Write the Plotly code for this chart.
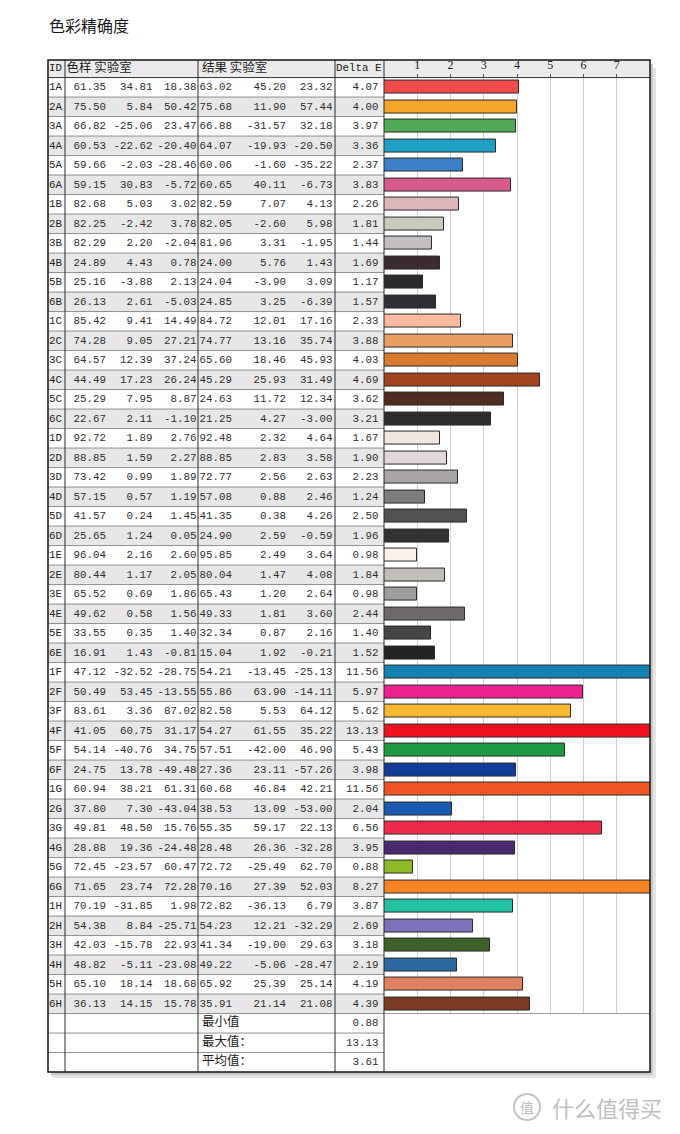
import plotly.graph_objects as go

# ---------------- data ----------------
ids = ["1A","2A","3A","4A","5A","6A","1B","2B","3B","4B","5B","6B",
       "1C","2C","3C","4C","5C","6C","1D","2D","3D","4D","5D","6D",
       "1E","2E","3E","4E","5E","6E","1F","2F","3F","4F","5F","6F",
       "1G","2G","3G","4G","5G","6G","1H","2H","3H","4H","5H","6H"]
ref_L = [61.35,75.50,66.82,60.53,59.66,59.15,82.68,82.25,82.29,24.89,25.16,26.13,
         85.42,74.28,64.57,44.49,25.29,22.67,92.72,88.85,73.42,57.15,41.57,25.65,
         96.04,80.44,65.52,49.62,33.55,16.91,47.12,50.49,83.61,41.05,54.14,24.75,
         60.94,37.80,49.81,28.88,72.45,71.65,70.19,54.38,42.03,48.82,65.10,36.13]
ref_a = [34.81,5.84,-25.06,-22.62,-2.03,30.83,5.03,-2.42,2.20,4.43,-3.88,2.61,
         9.41,9.05,12.39,17.23,7.95,2.11,1.89,1.59,0.99,0.57,0.24,1.24,
         2.16,1.17,0.69,0.58,0.35,1.43,-32.52,53.45,3.36,60.75,-40.76,13.78,
         38.21,7.30,48.50,19.36,-23.57,23.74,-31.85,8.84,-15.78,-5.11,18.14,14.15]
ref_b = [18.38,50.42,23.47,-20.40,-28.46,-5.72,3.02,3.78,-2.04,0.78,2.13,-5.03,
         14.49,27.21,37.24,26.24,8.87,-1.10,2.76,2.27,1.89,1.19,1.45,0.05,
         2.60,2.05,1.86,1.56,1.40,-0.81,-28.75,-13.55,87.02,31.17,34.75,-49.48,
         61.31,-43.04,15.76,-24.48,60.47,72.28,1.98,-25.71,22.93,-23.08,18.68,15.78]
res_L = [63.02,75.68,66.88,64.07,60.06,60.65,82.59,82.05,81.96,24.00,24.04,24.85,
         84.72,74.77,65.60,45.29,24.63,21.25,92.48,88.85,72.77,57.08,41.35,24.90,
         95.85,80.04,65.43,49.33,32.34,15.04,54.21,55.86,82.58,54.27,57.51,27.36,
         60.68,38.53,55.35,28.48,72.72,70.16,72.82,54.23,41.34,49.22,65.92,35.91]
res_a = [45.20,11.90,-31.57,-19.93,-1.60,40.11,7.07,-2.60,3.31,5.76,-3.90,3.25,
         12.01,13.16,18.46,25.93,11.72,4.27,2.32,2.83,2.56,0.88,0.38,2.59,
         2.49,1.47,1.20,1.81,0.87,1.92,-13.45,63.90,5.53,61.55,-42.00,23.11,
         46.84,13.09,59.17,26.36,-25.49,27.39,-36.13,12.21,-19.00,-5.06,25.39,21.14]
res_b = [23.32,57.44,32.18,-20.50,-35.22,-6.73,4.13,5.98,-1.95,1.43,3.09,-6.39,
         17.16,35.74,45.93,31.49,12.34,-3.00,4.64,3.58,2.63,2.46,4.26,-0.59,
         3.64,4.08,2.64,3.60,2.16,-0.21,-25.13,-14.11,64.12,35.22,46.90,-57.26,
         42.21,-53.00,22.13,-32.28,62.70,52.03,6.79,-32.29,29.63,-28.47,25.14,21.08]
delta_e = [4.07,4.00,3.97,3.36,2.37,3.83,2.26,1.81,1.44,1.69,1.17,1.57,
           2.33,3.88,4.03,4.69,3.62,3.21,1.67,1.90,2.23,1.24,2.50,1.96,
           0.98,1.84,0.98,2.44,1.40,1.52,11.56,5.97,5.62,13.13,5.43,3.98,
           11.56,2.04,6.56,3.95,0.88,8.27,3.87,2.69,3.18,2.19,4.19,4.39]
bar_colors = ["#ef4b4b","#f4a52a","#4fa955","#1e9fc4","#3d80c8","#d85a8c",
              "#dbb7bb","#c9c9bd","#c2bec2","#3a2b2f","#2b2b2b","#2f2f35",
              "#f9baa0","#e99f62","#d97a2e","#a2451f","#4f2b22","#2d2d2d",
              "#f1e6e1","#e1d9d9","#aaa6a8","#7d7d7d","#525252","#323232",
              "#faf1ec","#c2beba","#9e9c9e","#6e6a6a","#454545","#232323",
              "#1382b1","#ee2190","#f8b931","#f01221","#1b9a42","#113d99",
              "#f25322","#1a5ab2","#f02a4a","#4b2971","#8eba2a","#f88322",
              "#22c2a2","#7d71b9","#3e6129","#2d69a1","#e08262","#7d3a22"]
header_cn = ["色样 实验室", "结果 实验室"]
header_id = "ID"
header_de = "Delta E"
summary_labels = ["最小值", "最大值：", "平均值："]
summary_values = [0.88, 13.13, 3.61]
tick_vals = [1, 2, 3, 4, 5, 6, 7]
tick_text = ["1", "2", "3", "4", "5", "6", "7"]

# ---------------- layout geometry (pixels) ----------------
W, H = 680, 1134
TOP, ROW = 60.0, 19.5
HDR = 0.9                  # header height in row units
n = len(ids)
ns = len(summary_labels)
y_top = -0.5 - HDR
y_bot = n + ns - 0.5
PAD = 0.6
LEFT, C_ID, C_REF, C_RES, C_CHART, RIGHT = 48, 65, 198, 335, 384, 650

def ypx(v):
    return TOP + (v - y_top) * ROW

def pfy(px):
    return 1 - px / H

def pfx(px):
    return px / W

tbl_dom = [pfy(ypx(y_bot + PAD)), pfy(ypx(y_top - PAD))]
bar_dom = [pfy(ypx(n - 0.5)), pfy(ypx(-0.5))]

rows = list(range(n))
num_font = dict(family="Liberation Mono, monospace", size=10.8, color="#2e2e2e")
cn_font = dict(family="Noto Sans CJK SC", size=12.5, color="#222222")

fig = go.Figure()

# bars
fig.add_trace(go.Bar(
    x=delta_e, y=rows, orientation="h", width=0.68,
    marker=dict(color=bar_colors, line=dict(color="#2a2a2a", width=1)),
    xaxis="x", yaxis="y2", hoverinfo="skip", showlegend=False))

# table numeric columns (right aligned at column edges)
cols = [(ref_L, 106), (ref_a, 152.5), (ref_b, 196.5),
        (res_L, 232), (res_a, 286), (res_b, 332.5), (delta_e, 378.5)]
for vals, xr in cols:
    fig.add_trace(go.Scatter(
        x=[xr] * n, y=rows, mode="text",
        text=[f"{v:.2f}" for v in vals], textposition="middle left",
        textfont=num_font, xaxis="x2", yaxis="y",
        hoverinfo="skip", showlegend=False))

# ID column
fig.add_trace(go.Scatter(
    x=[49] * n, y=rows, mode="text", text=ids, textposition="middle right",
    textfont=dict(family="Liberation Mono, monospace", size=10.8, color="#222222"),
    xaxis="x2", yaxis="y", hoverinfo="skip", showlegend=False))

# header
yh = (y_top + (-0.5)) / 2
fig.add_trace(go.Scatter(
    x=[49, 336], y=[yh, yh], mode="text", text=[header_id, header_de],
    textposition="middle right",
    textfont=dict(family="Liberation Mono, monospace", size=10.8, color="#1a1a1a"),
    xaxis="x2", yaxis="y", hoverinfo="skip", showlegend=False))
fig.add_trace(go.Scatter(
    x=[66.5, 202], y=[yh, yh], mode="text", text=header_cn,
    textposition="middle right", textfont=cn_font,
    xaxis="x2", yaxis="y", hoverinfo="skip", showlegend=False))

# summary rows
srows = [n + i for i in range(ns)]
fig.add_trace(go.Scatter(
    x=[202] * ns, y=srows, mode="text", text=summary_labels,
    textposition="middle right", textfont=cn_font,
    xaxis="x2", yaxis="y", hoverinfo="skip", showlegend=False))
fig.add_trace(go.Scatter(
    x=[378.5] * ns, y=srows, mode="text",
    text=[f"{v:.2f}" for v in summary_values], textposition="middle left",
    textfont=num_font, xaxis="x2", yaxis="y", hoverinfo="skip", showlegend=False))

# ---------------- shapes ----------------
shapes = []
T = dict(xref="x2", yref="y")
P = dict(xref="paper", yref="paper")

def prect(x0, x1, v0, v1, color):
    return dict(type="rect", **P, x0=pfx(x0), x1=pfx(x1), y0=pfy(ypx(v0)), y1=pfy(ypx(v1)),
                fillcolor=color, line=dict(width=0), layer="below")

sh = 4 / ROW
# drop shadow + white card + header band (paper layer, beneath all subplots)
shapes.append(prect(LEFT + 4, RIGHT + 6, y_top + 2 * sh, y_bot + 1.5 * sh, "#e4e4e4"))
shapes.append(prect(LEFT + 3, RIGHT + 3, y_top + sh, y_bot + 0.8 * sh, "#c9c9c9"))
shapes.append(prect(LEFT, RIGHT, y_top, y_bot, "#ffffff"))
shapes.append(prect(LEFT, RIGHT, y_top, -0.5, "#ebebeb"))
# alternating row shading (table area only)
for i in rows:
    if i % 2 == 1:
        shapes.append(prect(LEFT, C_CHART, i - 0.5, i + 0.5, "#e7e7e7"))
# horizontal row lines
for i in range(n + ns - 1):
    shapes.append(dict(type="line", **T, x0=LEFT, x1=C_CHART, y0=i + 0.5, y1=i + 0.5,
                       line=dict(color="#8e8e8e", width=1), layer="above"))
shapes.append(dict(type="line", **T, x0=LEFT, x1=RIGHT, y0=-0.5, y1=-0.5,
                   line=dict(color="#333333", width=1), layer="above"))
shapes.append(dict(type="line", **T, x0=C_CHART, x1=RIGHT, y0=n - 0.5, y1=n - 0.5,
                   line=dict(color="#9a9a9a", width=1), layer="above"))
# vertical lines
for xv in (C_ID, C_REF, C_RES, C_CHART):
    shapes.append(dict(type="line", **T, x0=xv, x1=xv, y0=y_top, y1=y_bot,
                       line=dict(color="#2a2a2a", width=1), layer="above"))
# outer border
shapes.append(dict(type="rect", **T, x0=LEFT, x1=RIGHT, y0=y_top, y1=y_bot,
                   line=dict(color="#151515", width=1.5), layer="above"))
# watermark circle
shapes.append(dict(type="circle", **P,
                   x0=pfx(514), x1=pfx(540), y0=pfy(1120), y1=pfy(1094),
                   line=dict(color="#c4c4c4", width=2)))

annotations = [
    dict(text="色彩精确度", xref="paper", yref="paper", x=pfx(47), y=pfy(25),
         xanchor="left", yanchor="middle", showarrow=False,
         font=dict(family="Noto Sans CJK SC", size=16, color="#1a1a1a")),
    dict(text="值", xref="paper", yref="paper", x=pfx(527), y=pfy(1107),
         xanchor="center", yanchor="middle", showarrow=False,
         font=dict(family="Noto Sans CJK SC", size=14, color="#bdbdbd")),
    dict(text="什么值得买", xref="paper", yref="paper", x=pfx(550), y=pfy(1107),
         xanchor="left", yanchor="middle", showarrow=False,
         font=dict(family="Noto Sans CJK SC", size=22, color="#c0c0c0")),
]

fig.update_layout(
    width=W, height=H, margin=dict(l=0, r=0, t=0, b=0),
    paper_bgcolor="#ffffff", plot_bgcolor="rgba(0,0,0,0)",
    showlegend=False, bargap=0,
    shapes=shapes, annotations=annotations,
    xaxis=dict(domain=[C_CHART / W, RIGHT / W], range=[0, 8], anchor="y2", side="top",
               tickvals=tick_vals, ticktext=tick_text, ticks="outside", ticklen=3,
               tickcolor="#555555", tickfont=dict(family="Liberation Serif", size=12, color="#222222"),
               showgrid=True, gridcolor="#cfcfcf", gridwidth=1, zeroline=False,
               showline=False, fixedrange=True),
    yaxis2=dict(domain=bar_dom, range=[n - 0.5, -0.5], anchor="x", visible=False,
                fixedrange=True),
    xaxis2=dict(domain=[0, 1], range=[0, W], anchor="y", visible=False, fixedrange=True),
    yaxis=dict(domain=tbl_dom, range=[y_bot + PAD, y_top - PAD], anchor="x2",
               visible=False, fixedrange=True),
)

fig.write_html("out.html")
